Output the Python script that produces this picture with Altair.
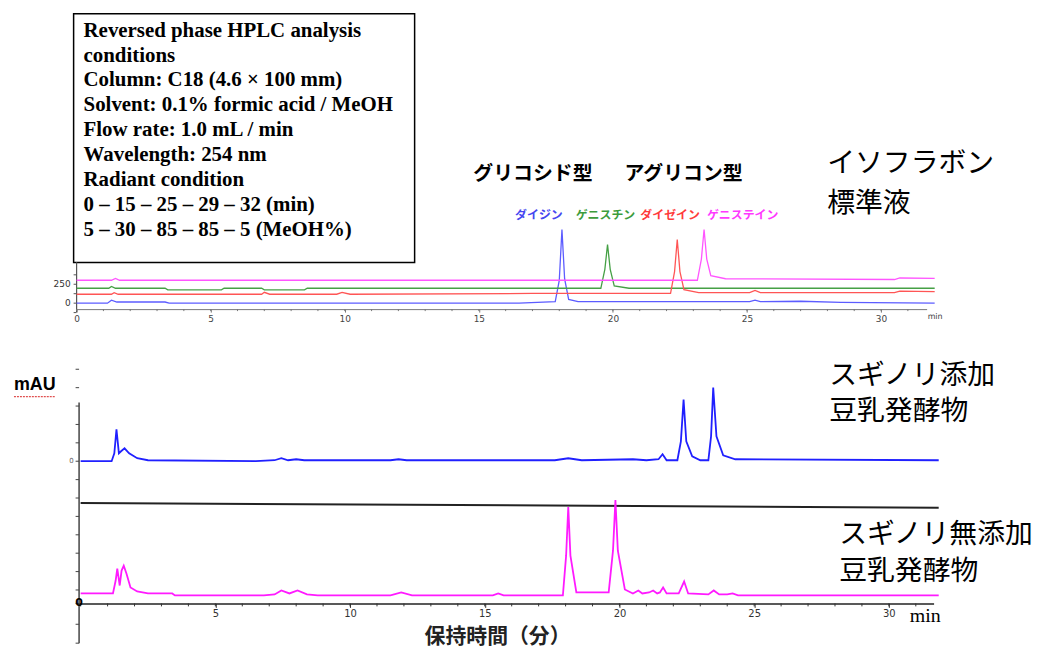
import altair as alt
import pandas as pd

# ---------------- top panel: isoflavone standards ----------------
std_names = ["ダイジン", "ゲニスチン", "ダイゼイン", "ゲニステイン"]
std_colors = ["#5c5cff", "#45a045", "#ff5555", "#ff55ff"]
std_label_colors = ["#4646f0", "#3c9c3c", "#ff3a3a", "#ff3aff"]
std_offsets = [0, 197, 118, 303]          # vertical stacking offsets (mAU)

daidzin_t = [0, 1.15, 1.3, 1.5, 3.3, 3.45, 16.5, 17.85, 18.0, 18.1, 18.2, 18.35, 18.7, 25.1, 25.3, 25.5, 27.0, 28.5, 32.0]
daidzin_v = [0, 0, 40, 15, 15, 0, 0, 20, 300, 974, 320, 50, 20, 20, 40, 20, 25, 10, 0]

genistin_t = [0, 1.2, 1.3, 1.45, 3.3, 3.4, 5.4, 5.5, 6.9, 7.0, 8.5, 8.6, 19.55, 19.7, 19.8, 19.9, 20.05, 20.6, 32.0]
genistin_v = [0, 0, 25, 0, 0, -20, -20, 0, 0, -20, -20, 0, 0, 250, 579, 250, 30, 0, 0]

daidzein_t = [0, 1.3, 1.4, 1.55, 6.9, 7.0, 7.2, 9.7, 9.9, 10.2, 17.0, 22.15, 22.3, 22.4, 22.5, 22.65, 23.2, 25.1, 25.3, 25.5, 30.5, 30.7, 32.0]
daidzein_v = [0, 0, 20, 0, 0, 25, 0, 0, 25, 0, 10, 10, 300, 724, 300, 60, 20, 20, 50, 20, 20, 40, 35]

genistein_t = [0, 1.3, 1.45, 1.6, 3.3, 23.15, 23.3, 23.4, 23.5, 23.65, 24.2, 30.5, 30.7, 32.0]
genistein_v = [0, 0, 25, 0, 0, 0, 280, 671, 280, 60, 20, 10, 30, 25]

top_ticks = [-125, 0, 125, 250, 375]
top_tick_labels = ["", "0", "", "250", ""]
top_axis_span = [540, -118]
top_major_minutes = [0, 5, 10, 15, 20, 25, 30]
top_minor_minutes = list(range(0, 32))

box_lines = [
    "Reversed phase HPLC analysis",
    "conditions",
    "Column: C18 (4.6 \u00d7 100 mm)",
    "Solvent: 0.1% formic acid / MeOH",
    "Flow rate: 1.0 mL / min",
    "Wavelength: 254 nm",
    "Radiant condition",
    "0 \u2013 15 \u2013 25 \u2013 29 \u2013 32 (min)",
    "5 \u2013 30 \u2013 85 \u2013 85 \u2013 5 (MeOH%)",
]
group_titles = ["グリコシド型", "アグリコン型"]
std_panel_title = ["イソフラボン", "標準液"]

# ---------------- bottom panel: fermented soy milk samples ----------------
sample_names = ["スギノリ添加", "スギノリ無添加"]
sample_colors = ["#2020ff", "#ff1aff"]
sample_offsets = [143, 8]

added_t = [0, 1.15, 1.25, 1.33, 1.42, 1.5, 1.63, 1.8, 2.1, 2.5, 6.5, 7.2, 7.45, 7.7, 8.0, 8.3, 11.5, 11.8, 12.1,
           17.6, 18.1, 18.6, 20.5, 21.0, 21.45, 21.6, 21.75, 22.15, 22.28, 22.38, 22.48, 22.7, 23.0, 23.3, 23.4,
           23.48, 23.6, 23.85, 24.3, 31.85]
added_v = [0, 0, 8, 32, 8, 10, 13, 8, 3, 1, 0, 1, 3, 1, 2, 1, 1, 2, 1,
           1, 3, 1, 2, 1, 2, 7, 1, 1, 20, 62, 20, 5, 1, 1, 25,
           74, 25, 6, 2, 1]

plain_t = [0, 1.2, 1.3, 1.36, 1.45, 1.52, 1.6, 1.7, 1.85, 2.1, 2.5, 3.4, 3.5, 6.8, 7.2, 7.45, 7.75, 8.05, 8.4,
           8.8, 11.5, 11.9, 12.3, 15.3, 15.5, 15.7, 17.9, 18.02, 18.1, 18.18, 18.4, 19.6, 19.76, 19.85, 19.94,
           20.2, 20.5, 20.7, 20.85, 21.1, 21.25, 21.4, 21.5, 21.62, 21.75, 22.2, 22.4, 22.55, 23.3, 23.5, 23.7,
           24.0, 24.2, 24.4, 31.85]
plain_v = [2, 2, 15, 27, 10, 25, 30, 22, 8, 4, 2, 2, 0, 0, 1, 5, 2, 5, 1,
           0, 0, 3, 0, 0, 2, 0, 0, 40, 89, 40, 3, 3, 45, 96, 45,
           6, 2, 5, 2, 3, 5, 2, 3, 8, 2, 2, 14, 2, 1, 5, 1,
           1, 2, 0, 0]

separator_t = [0, 31.85]
separator_v = [101, 96.3]

bot_ticks = [235.5, 217, 198.5, 180, 161.5, 143, 124.5, 106, 87.5, 69, 50.5, 32, 13.5, 0, -21, -40]
bot_axis_span = [202, -40]
bot_major_minutes = [5, 10, 15, 20, 25, 30]
bot_minor_minutes = list(range(0, 32))
added_title = ["スギノリ添加", "豆乳発酵物"]
plain_title = ["スギノリ無添加", "豆乳発酵物"]

JP = "Noto Sans CJK JP"

# ---------------- build tables ----------------
rows = []
for name, off, ts, vs in zip(std_names, std_offsets,
                             [daidzin_t, genistin_t, daidzein_t, genistein_t],
                             [daidzin_v, genistin_v, daidzein_v, genistein_v]):
    for t, v in zip(ts, vs):
        rows.append({"name": name, "t": t, "y": v + off})
df_std = pd.DataFrame(rows)

rows = []
for name, off, ts, vs in zip(sample_names, sample_offsets, [added_t, plain_t], [added_v, plain_v]):
    for t, v in zip(ts, vs):
        rows.append({"name": name, "t": t, "y": v + off})
df_smp = pd.DataFrame(rows)

one = alt.Chart(pd.DataFrame({"k": [0]}))

# ---------------- top chart ----------------
W_TOP, H_TOP = 855, 297
x_top = alt.Scale(domain=[0, 31.7], nice=False, zero=False)
y_top = alt.Scale(domain=[-79, 3829], nice=False, zero=False)

box = one.mark_rect(fill="white", stroke="black", strokeWidth=1.5).encode(
    x=alt.value(-3), x2=alt.value(340), y=alt.value(0), y2=alt.value(250))
box_text = one.mark_text(align="left", baseline="top", font="Liberation Serif", fontWeight="bold",
                         fontSize=21, lineHeight=25, lineBreak="\n", color="black").encode(
    x=alt.value(7), y=alt.value(6), text=alt.value("\n".join(box_lines)))

top_yaxis = alt.Chart(pd.DataFrame({"a": [top_axis_span[0]], "b": [top_axis_span[1]]})).mark_rule(
    color="#555", strokeWidth=1.2).encode(
    x=alt.value(0), y=alt.Y("a:Q", scale=y_top, axis=None), y2="b:Q")
top_tick_df = pd.DataFrame({"v": top_ticks, "lab": top_tick_labels})
top_yticks = alt.Chart(top_tick_df).mark_rule(color="#555").encode(
    x=alt.value(-3), x2=alt.value(0), y=alt.Y("v:Q", scale=y_top, axis=None))
top_ylabels = alt.Chart(top_tick_df).mark_text(align="right", baseline="middle", fontSize=9,
                                              color="#333", font="DejaVu Sans").encode(
    x=alt.value(-6), y=alt.Y("v:Q", scale=y_top, axis=None), text="lab:N")

top_minor = alt.Chart(pd.DataFrame({"m": top_minor_minutes})).mark_rule(color="#777").encode(
    x=alt.X("m:Q", scale=x_top), y=alt.value(H_TOP), y2=alt.value(H_TOP + 2))

top_lines = alt.Chart(df_std).mark_line(strokeWidth=1.3).encode(
    x=alt.X("t:Q", scale=x_top,
            axis=alt.Axis(values=top_major_minutes, title=None, grid=False,
                          tickSize=3, labelFontSize=9, labelColor="#444", labelFont="DejaVu Sans",
                          domainColor="#777", tickColor="#777", labelFlush=False, labelOverlap=False,
                          labelPadding=2)),
    y=alt.Y("y:Q", scale=y_top, axis=None),
    color=alt.Color("name:N", scale=alt.Scale(domain=std_names, range=std_colors), legend=None),
    detail="name:N")

top_min = one.mark_text(align="left", baseline="middle", fontSize=8, color="#444",
                        font="DejaVu Sans").encode(x=alt.value(856), y=alt.value(305), text=alt.value("min"))

grp1 = one.mark_text(align="left", baseline="middle", font=JP, fontWeight="bold", fontSize=20).encode(
    x=alt.value(399), y=alt.value(161), text=alt.value(group_titles[0]))
grp2 = one.mark_text(align="left", baseline="middle", font=JP, fontWeight="bold", fontSize=20).encode(
    x=alt.value(551), y=alt.value(161), text=alt.value(group_titles[1]))

comp_x = [441, 502, 567, 634]
comp_layers = []
for nm, col, cx in zip(std_names, std_label_colors, comp_x):
    comp_layers.append(one.mark_text(align="left", baseline="middle", font=JP, fontWeight="bold",
                                     fontSize=12, color=col).encode(
        x=alt.value(cx), y=alt.value(202), text=alt.value(nm)))

std_t1 = one.mark_text(align="left", baseline="middle", font=JP, fontSize=28, color="black").encode(
    x=alt.value(755), y=alt.value(151), text=alt.value(std_panel_title[0]))
std_t2 = one.mark_text(align="left", baseline="middle", font=JP, fontSize=28, color="black").encode(
    x=alt.value(755), y=alt.value(191), text=alt.value(std_panel_title[1]))

top = alt.layer(box, box_text, top_yaxis, top_yticks, top_ylabels, top_minor, top_lines, top_min,
                grp1, grp2, *comp_layers, std_t1, std_t2).properties(width=W_TOP, height=H_TOP)

# ---------------- bottom chart ----------------
W_BOT, H_BOT = 862, 242
x_bot = alt.Scale(domain=[-0.15, 31.66], nice=False, zero=False)
y_bot = alt.Scale(domain=[0, 242], nice=False, zero=False)

sep = alt.Chart(pd.DataFrame({"t": separator_t, "y": separator_v})).mark_line(
    color="#222", strokeWidth=2).encode(
    x=alt.X("t:Q", scale=x_bot), y=alt.Y("y:Q", scale=y_bot, axis=None))

bot_minor = alt.Chart(pd.DataFrame({"m": bot_minor_minutes})).mark_rule(color="#333").encode(
    x=alt.X("m:Q", scale=x_bot), y=alt.value(H_BOT), y2=alt.value(H_BOT + 3))

bot_lines = alt.Chart(df_smp).mark_line(strokeWidth=1.8).encode(
    x=alt.X("t:Q", scale=x_bot,
            axis=alt.Axis(values=bot_major_minutes, title=None, grid=False,
                          tickSize=4, labelFontSize=10, labelColor="#333", labelFont="DejaVu Sans",
                          domainColor="#222", domainWidth=1.5, tickColor="#333",
                          labelFlush=False, labelOverlap=False, labelPadding=1)),
    y=alt.Y("y:Q", scale=y_bot, axis=None),
    color=alt.Color("name:N", scale=alt.Scale(domain=sample_names, range=sample_colors), legend=None),
    detail="name:N")

bot_yaxis = alt.Chart(pd.DataFrame({"a": [bot_axis_span[0]], "b": [bot_axis_span[1]]})).mark_rule(
    color="#444", strokeWidth=1.5).encode(
    x=alt.value(2.5), y=alt.Y("a:Q", scale=y_bot, axis=None), y2="b:Q")
bot_yticks = alt.Chart(pd.DataFrame({"v": bot_ticks})).mark_rule(color="#444").encode(
    x=alt.value(-1), x2=alt.value(2.5), y=alt.Y("v:Q", scale=y_bot, axis=None))
bot_zero = alt.Chart(pd.DataFrame({"v": [sample_offsets[0]], "lab": ["0"]})).mark_text(
    align="right", baseline="middle", fontSize=7, color="#666", font="DejaVu Sans").encode(
    x=alt.value(-3), y=alt.Y("v:Q", scale=y_bot, axis=None), text="lab:N")
origin_zero = alt.Chart(pd.DataFrame({"v": [0], "lab": ["0"]})).mark_text(
    align="center", baseline="middle", fontSize=11, fontWeight="bold", color="black",
    font="DejaVu Sans").encode(
    x=alt.value(2.5), y=alt.Y("v:Q", scale=y_bot, axis=None), text="lab:N")

mau = one.mark_text(align="left", baseline="middle", fontSize=18, fontWeight="bold",
                    font="Liberation Sans", color="black").encode(
    x=alt.value(-63), y=alt.value(22), text=alt.value("mAU"))
mau_squiggle = one.mark_rule(color="#e05050", strokeWidth=1.2, strokeDash=[2, 1]).encode(
    x=alt.value(-63), x2=alt.value(-21), y=alt.value(34))

add1 = one.mark_text(align="left", baseline="middle", font=JP, fontSize=28, color="black").encode(
    x=alt.value(757), y=alt.value(13), text=alt.value(added_title[0]))
add2 = one.mark_text(align="left", baseline="middle", font=JP, fontSize=28, color="black").encode(
    x=alt.value(757), y=alt.value(50), text=alt.value(added_title[1]))
pl1 = one.mark_text(align="left", baseline="middle", font=JP, fontSize=28, color="black").encode(
    x=alt.value(767), y=alt.value(173), text=alt.value(plain_title[0]))
pl2 = one.mark_text(align="left", baseline="middle", font=JP, fontSize=28, color="black").encode(
    x=alt.value(767), y=alt.value(210), text=alt.value(plain_title[1]))

bot_min = one.mark_text(align="left", baseline="middle", fontSize=20, font="Liberation Serif",
                        color="black").encode(x=alt.value(838), y=alt.value(255), text=alt.value("min"))
bot_title = one.mark_text(align="left", baseline="middle", fontSize=21, fontWeight="bold", font=JP,
                          color="#222").encode(x=alt.value(350), y=alt.value(276),
                                               text=alt.value("保持時間（分）"))

bottom = alt.layer(sep, bot_minor, bot_lines, bot_yaxis, bot_yticks, bot_zero, origin_zero, mau,
                   mau_squiggle, add1, add2, pl1, pl2, bot_min, bot_title).properties(width=W_BOT, height=H_BOT)

chart = alt.vconcat(top, bottom, spacing=37).resolve_scale(
    x="independent", color="independent"
).properties(
    padding={"left": 4, "top": 2, "right": 0, "bottom": 0}
).configure_view(stroke="transparent").configure_axis(grid=False)

chart.save("out.html", embed_options={"renderer": "svg", "actions": False})
